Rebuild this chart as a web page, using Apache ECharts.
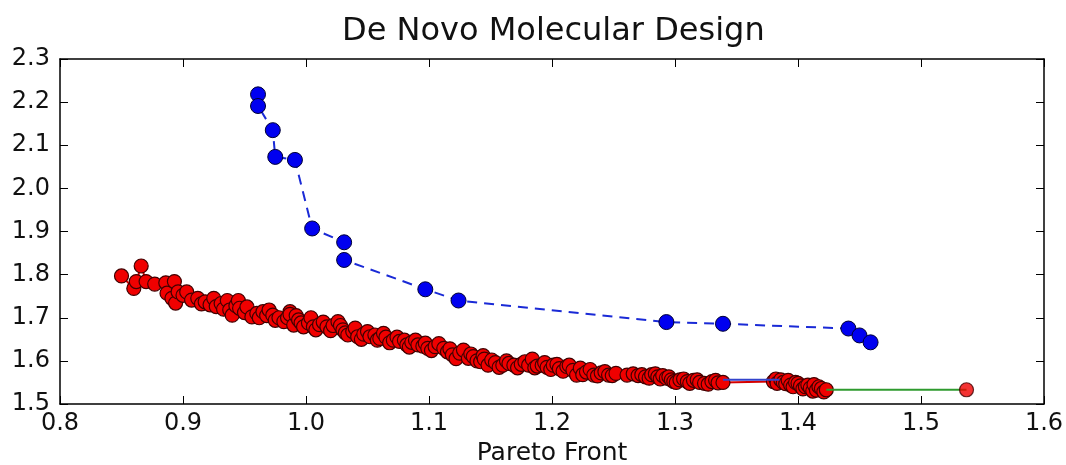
<!DOCTYPE html>
<html>
<head>
<meta charset="utf-8">
<script src="https://cdn.jsdelivr.net/npm/echarts@6/dist/echarts.min.js"></script>
<style>
html,body{margin:0;padding:0;background:#fff;}
#chart{width:1066px;height:465px;}
</style>
</head>
<body>
<div id="chart"></div>
<script>
var titleText = 'De Novo Molecular Design';
var xAxisName = 'Pareto Front';
var xTicks = [0.8, 0.9, 1.0, 1.1, 1.2, 1.3, 1.4, 1.5, 1.6];
var yTicks = [1.5, 1.6, 1.7, 1.8, 1.9, 2.0, 2.1, 2.2, 2.3];

// blue front (dashed line with markers)
var blueFront = [
  [0.961, 2.218], [0.961, 2.191], [0.973, 2.135], [0.975, 2.073], [0.991, 2.066],
  [1.005, 1.907], [1.031, 1.875], [1.031, 1.834], [1.097, 1.766], [1.124, 1.740],
  [1.293, 1.690], [1.339, 1.686], [1.441, 1.675], [1.450, 1.659], [1.459, 1.643]
];

// red front (solid red line with markers)
var redFront = [
  [0.850,1.797],[0.860,1.768],[0.862,1.784],[0.866,1.820],[0.870,1.784],[0.877,1.778],
  [0.886,1.781],[0.887,1.757],[0.891,1.745],[0.893,1.784],[0.894,1.734],[0.896,1.760],
  [0.900,1.752],[0.907,1.741],[0.912,1.745],[0.918,1.737],[0.922,1.730],[0.927,1.726],
  [0.931,1.733],[0.936,1.740],[0.938,1.718],[0.940,1.706],[0.943,1.728],[0.946,1.722],
  [0.950,1.712],[0.956,1.702],[0.960,1.710],[0.965,1.714],[0.968,1.705],[0.973,1.706],
  [0.978,1.700],[0.982,1.691],[0.987,1.714],[0.987,1.708],[0.990,1.683],[0.994,1.695],
  [0.998,1.679],[1.002,1.688],[1.006,1.679],[1.011,1.684],[1.017,1.679],[1.022,1.682],
  [1.026,1.691],[1.030,1.672],[1.034,1.660],[1.038,1.668],[1.042,1.656],[1.047,1.662],
  [1.052,1.656],[1.056,1.660],[1.060,1.652],[1.065,1.655],[1.071,1.648],[1.076,1.645],
  [1.082,1.637],[1.086,1.643],[1.091,1.637],[1.095,1.634],[1.099,1.629],[1.105,1.633],
  [1.112,1.629],[1.115,1.621],[1.119,1.614],[1.125,1.618],[1.132,1.606],[1.136,1.610],
  [1.142,1.598],[1.145,1.604],[1.148,1.590],[1.154,1.596],[1.160,1.590],[1.165,1.594],
  [1.169,1.590],[1.175,1.592],[1.181,1.590],[1.184,1.604],[1.188,1.588],[1.192,1.590],
  [1.196,1.585],[1.201,1.590],[1.206,1.582],[1.212,1.587],[1.217,1.578],[1.220,1.567],
  [1.223,1.583],[1.228,1.574],[1.234,1.567],[1.240,1.572],[1.246,1.567],[1.252,1.571],
  [1.261,1.567],[1.270,1.566],[1.276,1.563],[1.281,1.568],[1.286,1.563],[1.290,1.566],
  [1.293,1.560],[1.297,1.556],[1.299,1.552],[1.304,1.556],[1.310,1.552],[1.315,1.555],
  [1.320,1.550],[1.324,1.548],[1.330,1.552],[1.335,1.549],[1.339,1.550],[1.380,1.552],
  [1.383,1.548],[1.386,1.556],[1.390,1.547],[1.394,1.544],[1.398,1.550],[1.402,1.542],
  [1.406,1.540],[1.410,1.537],[1.413,1.545],[1.415,1.532],[1.419,1.536],[1.423,1.533]
];
var redFrontExtra = [
  [0.903,1.760],[0.915,1.732],[0.925,1.745],[0.933,1.720],[0.945,1.740],[0.952,1.725],
  [0.962,1.700],[0.970,1.718],[0.975,1.694],[0.985,1.700],[0.992,1.705],[0.996,1.688],
  [1.004,1.700],[1.008,1.672],[1.014,1.690],[1.020,1.670],[1.028,1.682],[1.032,1.665],
  [1.040,1.676],[1.045,1.650],[1.050,1.668],[1.058,1.648],[1.063,1.664],[1.068,1.642],
  [1.074,1.655],[1.080,1.648],[1.084,1.632],[1.089,1.648],[1.097,1.641],[1.102,1.624],
  [1.108,1.640],[1.117,1.628],[1.122,1.605],[1.128,1.625],[1.134,1.616],[1.139,1.600],
  [1.144,1.612],[1.151,1.602],[1.157,1.585],[1.163,1.600],[1.172,1.584],[1.178,1.598],
  [1.186,1.584],[1.194,1.596],[1.199,1.580],[1.204,1.592],[1.209,1.576],[1.214,1.590],
  [1.225,1.568],[1.231,1.580],[1.237,1.565],[1.243,1.575],[1.249,1.566],[1.266,1.570],
  [1.273,1.568],[1.279,1.560],[1.284,1.570],[1.288,1.558],[1.295,1.563],[1.301,1.550],
  [1.307,1.558],[1.312,1.548],[1.318,1.556],[1.327,1.546],[1.333,1.555],[1.382,1.558],
  [1.388,1.550],[1.392,1.555],[1.396,1.540],[1.400,1.548],[1.404,1.535],[1.408,1.544],
  [1.412,1.530],[1.417,1.540],[1.421,1.528]
];

// other fronts visible only as lines
var blueSegment = [[1.339, 1.556], [1.385, 1.556]];
var greenSegment = [[1.423, 1.533], [1.537, 1.533]];
var finalPoint = [[1.537, 1.533]];

var redAll = redFront.concat(redFrontExtra).sort(function (a, b) { return a[0] - b[0]; });

var FONT = 'DejaVu Sans';
var chart = echarts.init(document.getElementById('chart'), null, {renderer: 'canvas'});

function fmt(v) { return v.toFixed(1); }

var axisLineStyle = {color: '#000', width: 1.5};
var tickStyle = {show: true, inside: true, length: 8, lineStyle: {color: '#000', width: 1}};
var option = {
  backgroundColor: '#fff',
  animation: false,
  title: {
    text: titleText,
    left: 342,
    top: 16,
    padding: 0,
    textStyle: {fontFamily: FONT, fontSize: 32, fontWeight: 'normal', color: '#111'}
  },
  grid: {left: 60, right: 22, top: 59, bottom: 61, containLabel: false, outerBoundsMode: 'none'},
  xAxis: [{
    type: 'value', min: xTicks[0], max: xTicks[xTicks.length - 1], interval: 0.1,
    name: xAxisName, nameLocation: 'middle', nameGap: 36,
    nameTextStyle: {fontFamily: FONT, fontSize: 25, color: '#111'},
    axisLine: {show: true, onZero: false, lineStyle: axisLineStyle},
    axisTick: tickStyle,
    axisLabel: {margin: 8, fontFamily: FONT, fontSize: 24, color: '#111', formatter: fmt},
    splitLine: {show: false}
  }, {
    type: 'value', position: 'top', min: xTicks[0], max: xTicks[xTicks.length - 1], interval: 0.1,
    axisLine: {show: true, onZero: false, lineStyle: axisLineStyle},
    axisTick: tickStyle,
    axisLabel: {show: false}, splitLine: {show: false}
  }],
  yAxis: [{
    type: 'value', min: yTicks[0], max: yTicks[yTicks.length - 1], interval: 0.1,
    axisLine: {show: true, onZero: false, lineStyle: axisLineStyle},
    axisTick: tickStyle,
    axisLabel: {margin: 10, fontFamily: FONT, fontSize: 24, color: '#111', formatter: fmt},
    splitLine: {show: false}
  }, {
    type: 'value', position: 'right', min: yTicks[0], max: yTicks[yTicks.length - 1], interval: 0.1,
    axisLine: {show: true, onZero: false, lineStyle: axisLineStyle},
    axisTick: tickStyle,
    axisLabel: {show: false}, splitLine: {show: false}
  }],
  series: [
    {
      type: 'line', data: redAll, xAxisIndex: 0, yAxisIndex: 0,
      symbol: 'circle', symbolSize: 14, showSymbol: true,
      lineStyle: {color: '#d40000', width: 2},
      itemStyle: {color: '#f00000', borderColor: '#400000', borderWidth: 1.2},
      z: 2
    },
    {
      type: 'line', data: blueSegment, symbol: 'none',
      lineStyle: {color: '#3344cc', width: 2}, z: 3
    },
    {
      type: 'line', data: greenSegment, symbol: 'none',
      lineStyle: {color: '#2e9a2e', width: 2}, z: 3
    },
    {
      type: 'scatter', data: finalPoint, symbol: 'circle', symbolSize: 14,
      itemStyle: {color: '#f00000', borderColor: '#400000', borderWidth: 1.2}, z: 4
    },
    {
      type: 'line', data: blueFront, symbol: 'circle', symbolSize: 15, showSymbol: true,
      lineStyle: {color: '#1a2ad6', width: 2, type: [10, 7]},
      itemStyle: {color: '#0000f0', borderColor: '#000033', borderWidth: 1},
      z: 5
    }
  ]
};
chart.setOption(option);
</script>
</body>
</html>
